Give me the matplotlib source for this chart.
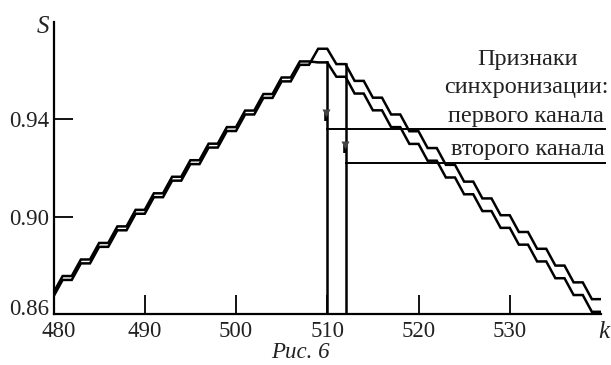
import numpy as np
import matplotlib
matplotlib.use("Agg")
import matplotlib.pyplot as plt
import matplotlib.transforms as mtransforms

# k axis (sample index)
k = np.arange(480, 541)

# first channel S(k)
s_ch1 = [0.8688,
         0.8756, 0.8756, 0.8824, 0.8824, 0.8892, 0.8892, 0.8960, 0.8960, 0.9028, 0.9028,
         0.9096, 0.9096, 0.9164, 0.9164, 0.9232, 0.9232, 0.9300, 0.9300, 0.9368, 0.9368,
         0.9436, 0.9436, 0.9504, 0.9504, 0.9572, 0.9572, 0.9638, 0.9638, 0.9634, 0.9634,
         0.9575, 0.9575, 0.9506, 0.9506, 0.9437, 0.9437, 0.9368, 0.9368, 0.9299, 0.9299,
         0.9230, 0.9230, 0.9161, 0.9161, 0.9092, 0.9092, 0.9023, 0.9023, 0.8954, 0.8954,
         0.8885, 0.8885, 0.8816, 0.8816, 0.8747, 0.8747, 0.8678, 0.8678, 0.8609, 0.8609]

# second channel S(k)
s_ch2 = [0.8672,
         0.8740, 0.8740, 0.8808, 0.8808, 0.8876, 0.8876, 0.8944, 0.8944, 0.9012, 0.9012,
         0.9080, 0.9080, 0.9148, 0.9148, 0.9216, 0.9216, 0.9284, 0.9284, 0.9352, 0.9352,
         0.9420, 0.9420, 0.9488, 0.9488, 0.9556, 0.9556, 0.9624, 0.9624, 0.9690, 0.9690,
         0.9627, 0.9627, 0.9558, 0.9558, 0.9489, 0.9489, 0.9420, 0.9420, 0.9351, 0.9351,
         0.9282, 0.9282, 0.9213, 0.9213, 0.9144, 0.9144, 0.9075, 0.9075, 0.9006, 0.9006,
         0.8937, 0.8937, 0.8868, 0.8868, 0.8799, 0.8799, 0.8730, 0.8730, 0.8661, 0.8661]

# sync marks: position k, top of vertical line, level of horizontal line
sync_k = [510, 512]
sync_top = [0.9634, 0.9627]
sync_level = [0.9361, 0.9221]
sync_mark = [0.9420, 0.9285]

xticks = [480, 490, 500, 510, 520, 530]
yticks = [0.86, 0.90, 0.94]
ylabels = ["0.86", "0.90", "0.94"]

legend_lines = ["Признаки", "синхронизации:", "первого канала", "второго канала"]

W, H = 611, 365
plt.rcParams['font.family'] = ['Liberation Serif', 'DejaVu Serif']
txt = '#222222'

fig = plt.figure(figsize=(W / 100, H / 100), dpi=100)
ax = fig.add_axes([53.5 / W, (H - 314) / H, (601 - 53.5) / W, (314 - 22) / H])

ax.plot(k, s_ch1, color='black', lw=1.8, solid_joinstyle='miter')
ax.plot(k, s_ch2, color='black', lw=1.8, solid_joinstyle='miter')

for i in range(2):
    ax.plot([sync_k[i], sync_k[i]], [0.86, sync_top[i]], color='black', lw=1.8)
    ax.plot([sync_k[i], 540.4], [sync_level[i], sync_level[i]], color='black', lw=1.4, clip_on=False)
    ax.plot([sync_k[i] - 0.1, sync_k[i] - 0.1], [sync_mark[i] + 0.001, sync_mark[i] - 0.0025],
            color='black', lw=2.6, solid_capstyle='butt')
    ax.plot(sync_k[i] - 0.1, sync_mark[i] + 0.0008, marker='v', ms=5.5, color='#444444', mec='none')

ax.set_xlim(480, 540)
ax.set_ylim(0.86, 0.98)
for side in ['top', 'right']:
    ax.spines[side].set_visible(False)
for side in ['left', 'bottom']:
    ax.spines[side].set_linewidth(1.6)

ax.set_xticks(xticks)
ax.set_xticklabels([str(v) for v in xticks])
ax.set_yticks(yticks)
ax.set_yticklabels(ylabels)
ax.tick_params(axis='both', direction='in', length=14, width=1.3, labelsize=16.5, labelcolor=txt)
ax.tick_params(axis='x', pad=5)
ax.tick_params(axis='y', pad=3)

# nudge the corner labels apart like in the original
fig.canvas.draw()
ylab0 = ax.get_yticklabels()[0]
ylab0.set_transform(ylab0.get_transform() + mtransforms.ScaledTranslation(0, 7 / 100, fig.dpi_scale_trans))
xlab0 = ax.get_xticklabels()[0]
xlab0.set_transform(xlab0.get_transform() + mtransforms.ScaledTranslation(5 / 100, 0, fig.dpi_scale_trans))

# axis names and caption
fig.text(43 / W, (H - 33) / H, "S", style='italic', fontsize=18, color=txt, ha='center', va='baseline')
fig.text(604 / W, (H - 338) / H, "k", style='italic', fontsize=18, color=txt, ha='center', va='baseline')
fig.text(300 / W, (H - 358) / H, "Рис. 6", style='italic', fontsize=16.5, color=txt, ha='center', va='baseline')

baselines = [65, 93, 122, 155]
centers = [528, 526.5, 526, 528]
for line, yb, xc in zip(legend_lines, baselines, centers):
    fig.text(xc / W, (H - yb) / H, line, fontsize=17.5, color=txt, ha='center', va='baseline')

fig.savefig("out.png", dpi=100)
